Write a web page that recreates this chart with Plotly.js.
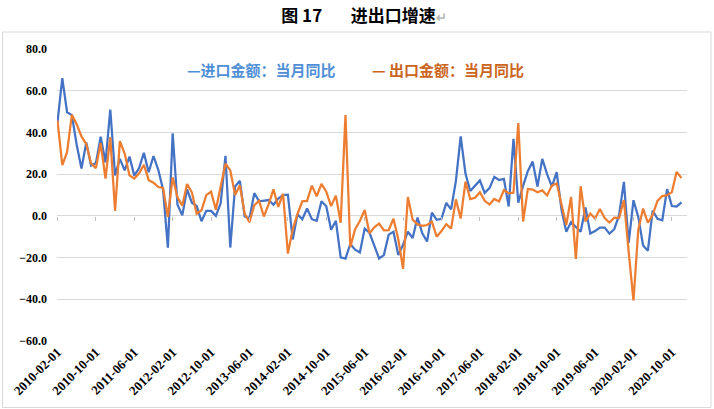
<!DOCTYPE html>
<html><head><meta charset="utf-8">
<script src="https://cdn.plot.ly/plotly-3.0.1.min.js"></script>
<style>html,body{margin:0;padding:0;background:#fff}#chart{width:714px;height:409px}</style>
</head><body><div id="chart"></div>
<script>
// monthly categories 2010-02-01 .. 2020-12-01
const startYear = 2010, startMonth = 2, nMonths = 131;
const months = [];
for (let i = 0; i < nMonths; i++) {
  const m = startMonth - 1 + i;
  months.push((startYear + Math.floor(m / 12)) + '-' + String(m % 12 + 1).padStart(2, '0') + '-01');
}

// 进口金额：当月同比 (%)
const imports = [
  44.7, 66.0, 49.7, 48.3, 34.1, 22.7, 35.2, 24.1, 25.3, 37.9, 25.6,
  51.0, 19.4, 27.3, 21.8, 28.4, 19.3, 22.9, 30.2, 20.9, 28.7, 22.1, 12.5,
  -15.3, 39.6, 5.3, 0.3, 12.7, 6.3, 4.7, -2.6, 2.4, 2.4, 0.0, 6.0,
  28.8, -15.2, 14.1, 16.8, -0.3, -1.2, 10.9, 7.0, 7.4, 7.6, 5.3, 8.3,
  10.0, 10.1, -11.3, 0.8, -1.6, 3.5, -1.6, -2.4, 7.0, 4.6, -6.7, -2.4,
  -19.9, -20.5, -13.5, -16.2, -17.6, -6.1, -8.1, -14.2, -20.4, -18.8, -9.0, -7.6,
  -18.8, -13.8, -7.6, -10.6, -0.8, -8.4, -12.3, 1.5, -1.9, -1.4, 6.2, 3.1,
  16.7, 38.1, 20.3, 11.9, 14.5, 17.0, 11.0, 13.3, 18.7, 17.2, 17.7, 4.5,
  36.9, 6.3, 14.4, 21.5, 26.0, 14.1, 27.3, 20.0, 14.0, 21.0, 3.0, -7.6,
  -3.0, -5.2, -7.6, 4.0, -8.5, -7.3, -5.6, -5.6, -8.5, -6.4, 0.3, 16.3,
  -13.0, 7.5, -0.5, -14.2, -16.7, 2.5, -1.4, -2.1, 12.8, 4.7, 4.5, 6.5
];

// 出口金额：当月同比 (%)
const exportsYoY = [
  45.7, 24.3, 30.5, 48.5, 43.9, 38.1, 34.4, 25.1, 22.9, 34.9, 17.9,
  37.7, 2.4, 35.8, 29.9, 19.4, 17.9, 20.4, 24.5, 17.1, 15.9, 13.8, 13.4,
  -0.5, 18.4, 8.9, 4.9, 15.3, 11.3, 1.0, 2.7, 9.9, 11.6, 2.9, 14.1,
  25.0, 21.8, 10.0, 14.7, 1.0, -3.1, 5.1, 7.2, -0.3, 5.6, 12.7, 4.3,
  10.6, -18.1, -6.6, 0.9, 7.0, 7.2, 14.5, 9.4, 15.3, 11.6, 4.7, 9.7,
  -3.3, 48.3, -15.0, -6.4, -2.5, 2.8, -8.3, -5.5, -3.7, -6.9, -6.8, -1.4,
  -11.2, -25.4, 9.0, -1.8, -4.1, -4.8, -4.4, -2.8, -10.0, -7.3, -4.0, -6.1,
  7.9, -1.3, 16.4, 8.0, 8.7, 11.3, 7.2, 5.5, 8.1, 6.9, 12.3, 10.9,
  11.1, 44.5, -2.7, 12.9, 12.6, 11.3, 12.2, 9.8, 14.5, 15.6, 5.4, -4.4,
  9.1, -20.7, 14.2, -2.7, 1.1, -1.3, 3.3, -1.0, -3.2, -0.9, -1.1, 7.6,
  -17.2, -40.6, -6.6, 3.5, -3.3, 0.5, 7.2, 9.5, 9.9, 11.4, 21.1, 18.1
];

const tickLabels = ['2010-02-01','2010-10-01','2011-06-01','2012-02-01','2012-10-01','2013-06-01',
  '2014-02-01','2014-10-01','2015-06-01','2016-02-01','2016-10-01','2017-06-01','2018-02-01',
  '2018-10-01','2019-06-01','2020-02-01','2020-10-01'];
const yTicks = [-60, -40, -20, 0, 20, 40, 60, 80];

const importName = '进口金额：当月同比';
const exportName = '出口金额：当月同比';
const blue = '#4472C4', orange = '#ED7D31';

const traces = [
  {x: months, y: imports, type: 'scatter', mode: 'lines', name: importName,
   line: {color: blue, width: 2.25}, xaxis: 'x', yaxis: 'y'},
  {x: months, y: exportsYoY, type: 'scatter', mode: 'lines', name: exportName,
   line: {color: orange, width: 2.25}, xaxis: 'x2', yaxis: 'y'}
];

// geometry of the plot area (px) used for paper-coordinate decorations
const W = 714, H = 409, L = 57, R = 27, T = 49, B = 68;
const pw = W - L - R, ph = H - T - B;
const px = v => (v - L) / pw, py = v => (H - B - v) / ph;

const layout = {
  width: W, height: H,
  margin: {l: L, r: R, t: T, b: B},
  paper_bgcolor: '#fff', plot_bgcolor: '#fff',
  showlegend: false,
  title: {
    text: '图 17\u3000\u00a0\u00a0\u00a0进出口增速<span style="color:#b8b8b8;font-size:13px">↵</span>',
    font: {family: 'Noto Sans CJK SC', size: 17, color: '#000', weight: 'bold'},
    xref: 'container', yref: 'container', x: 364 / W, y: 1 - 16 / H,
    xanchor: 'center', yanchor: 'middle'
  },
  xaxis: {
    type: 'category', categoryorder: 'array', categoryarray: months,
    range: [-0.1, 131.15],
    tickmode: 'array', tickvals: tickLabels, ticktext: tickLabels,
    tickangle: -45, ticks: '', showgrid: false, zeroline: false, showline: false,
    tickfont: {family: 'Liberation Serif', size: 13, color: '#000', weight: 'bold'}
  },
  xaxis2: {
    type: 'category', matches: 'x', overlaying: 'x', anchor: 'free',
    position: 60 / 140, side: 'bottom',
    tickmode: 'array', tickvals: tickLabels,
    ticks: 'outside', ticklen: 4, tickwidth: 1, tickcolor: '#bfbfbf',
    showticklabels: false, showgrid: false, zeroline: false, showline: false
  },
  yaxis: {
    range: [-60, 80], tickmode: 'array', tickvals: yTicks,
    tickformat: '.1f', showgrid: true, gridcolor: '#d9d9d9', gridwidth: 1,
    zeroline: false, showline: false, ticks: '', ticklabelstandoff: 9,
    tickfont: {family: 'Liberation Serif', size: 12, color: '#000', weight: 'bold'}
  },
  annotations: [
    {xref: 'paper', yref: 'paper', x: px(261.5), y: py(69), xanchor: 'center', yanchor: 'middle',
     text: '—' + importName, showarrow: false,
     font: {family: 'Noto Sans CJK SC', size: 15, color: '#4F8FD6', weight: 'bold'}},
    {xref: 'paper', yref: 'paper', x: px(447.5), y: py(69), xanchor: 'center', yanchor: 'middle',
     text: '— ' + exportName, showarrow: false,
     font: {family: 'Noto Sans CJK SC', size: 15, color: '#CB651D', weight: 'bold'}}
  ],
  shapes: [
    {type: 'rect', xref: 'paper', yref: 'paper', x0: px(2.5), x1: px(711), y0: py(407.5), y1: py(32),
     line: {color: '#d9d9d9', width: 1}, fillcolor: 'rgba(0,0,0,0)', layer: 'below'}
  ]
};

Plotly.newPlot('chart', traces, layout, {displayModeBar: false, staticPlot: true});
</script>
</body></html>
